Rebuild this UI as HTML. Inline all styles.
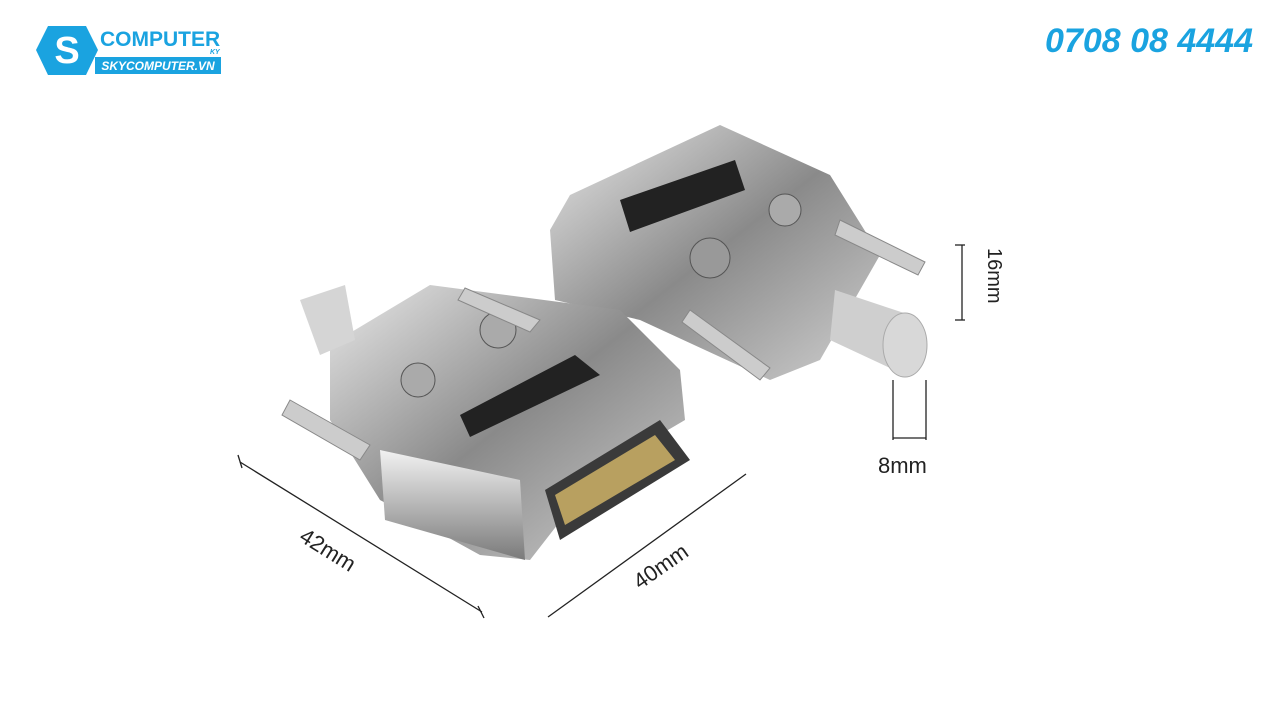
<!DOCTYPE html>
<html><head><meta charset="utf-8"><style>
html,body{margin:0;padding:0;background:#fff;width:1280px;height:720px;overflow:hidden}
</style></head><body>
<svg width="1280" height="720" viewBox="0 0 1280 720" xmlns="http://www.w3.org/2000/svg" font-family="Liberation Sans, sans-serif">
<defs>
<linearGradient id="m" x1="0" y1="0" x2="1" y2="1"><stop offset="0" stop-color="#e8e8e8"/><stop offset=".5" stop-color="#8a8a8a"/><stop offset="1" stop-color="#d0d0d0"/></linearGradient>
<linearGradient id="m2" x1="0" y1="0" x2="0" y2="1"><stop offset="0" stop-color="#f2f2f2"/><stop offset="1" stop-color="#7a7a7a"/></linearGradient>
</defs>
<polygon points="48,26 86,26 98,50 86,75 48,75 36,50" fill="#1aa3e0"/>
<text x="67" y="63" font-size="38" font-weight="bold" fill="#fff" text-anchor="middle">S</text>
<text x="100" y="46" font-size="21" font-weight="bold" fill="#1aa3e0">COMPUTER</text>
<text x="210" y="54" font-size="7" font-weight="bold" font-style="italic" fill="#1aa3e0">KY</text>
<rect x="95" y="57" width="126" height="17" fill="#1aa3e0"/>
<text x="158" y="70" font-size="12" font-weight="bold" font-style="italic" fill="#fff" text-anchor="middle">SKYCOMPUTER.VN</text>
<text x="1253" y="52" font-size="34" font-weight="bold" font-style="italic" fill="#1aa3e0" text-anchor="end">0708 08 4444</text>
<polygon points="570,195 720,125 830,175 880,255 860,290 820,360 770,380 640,320 555,300 550,230" fill="url(#m)"/>
<polygon points="620,200 735,160 745,190 630,232" fill="#222"/>
<circle cx="710" cy="258" r="20" fill="#999" stroke="#555"/>
<circle cx="785" cy="210" r="16" fill="#aaa" stroke="#555"/>
<polygon points="840,220 925,262 918,275 835,235" fill="#ccc" stroke="#888"/>
<polygon points="690,310 770,368 760,380 682,322" fill="#ccc" stroke="#888"/>
<polygon points="835,290 910,315 905,375 830,340" fill="#cfcfcf"/>
<ellipse cx="905" cy="345" rx="22" ry="32" fill="#d8d8d8" stroke="#aaa"/>
<polygon points="330,345 430,285 620,310 680,370 685,420 600,470 530,560 480,555 380,500 330,420" fill="url(#m)"/>
<polygon points="460,415 575,355 600,375 470,437" fill="#222"/>
<circle cx="498" cy="330" r="18" fill="#aaa" stroke="#555"/>
<circle cx="418" cy="380" r="17" fill="#aaa" stroke="#555"/>
<polygon points="300,300 345,285 355,340 320,355" fill="#d5d5d5"/>
<polygon points="290,400 370,445 360,460 282,415" fill="#ccc" stroke="#888"/>
<polygon points="465,288 540,320 530,332 458,300" fill="#ccc" stroke="#888"/>
<polygon points="545,490 660,420 690,460 560,540" fill="#3a3a3a"/>
<polygon points="555,495 655,435 675,460 565,525" fill="#b8a060"/>
<polygon points="380,450 520,480 525,560 385,520" fill="url(#m2)"/>
<g stroke="#222" stroke-width="1.3" fill="none">
<line x1="240" y1="462" x2="482" y2="612"/><line x1="238" y1="455" x2="242" y2="468"/><line x1="478" y1="606" x2="484" y2="618"/>
<line x1="548" y1="617" x2="746" y2="474"/>
<line x1="955" y1="245" x2="965" y2="245"/><line x1="955" y1="320" x2="965" y2="320"/><line x1="962" y1="245" x2="962" y2="320"/>
<line x1="893" y1="380" x2="893" y2="440"/><line x1="926" y1="380" x2="926" y2="440"/><line x1="893" y1="438" x2="926" y2="438"/>
</g>
<text x="0" y="0" font-size="22" fill="#222" transform="translate(298,540) rotate(32)">42mm</text>
<text x="0" y="0" font-size="22" fill="#222" transform="translate(640,590) rotate(-35)">40mm</text>
<text x="0" y="0" font-size="20" fill="#222" transform="translate(988,248) rotate(90)">16mm</text>
<text x="878" y="473" font-size="22" fill="#222">8mm</text>
</svg>
</body></html>
